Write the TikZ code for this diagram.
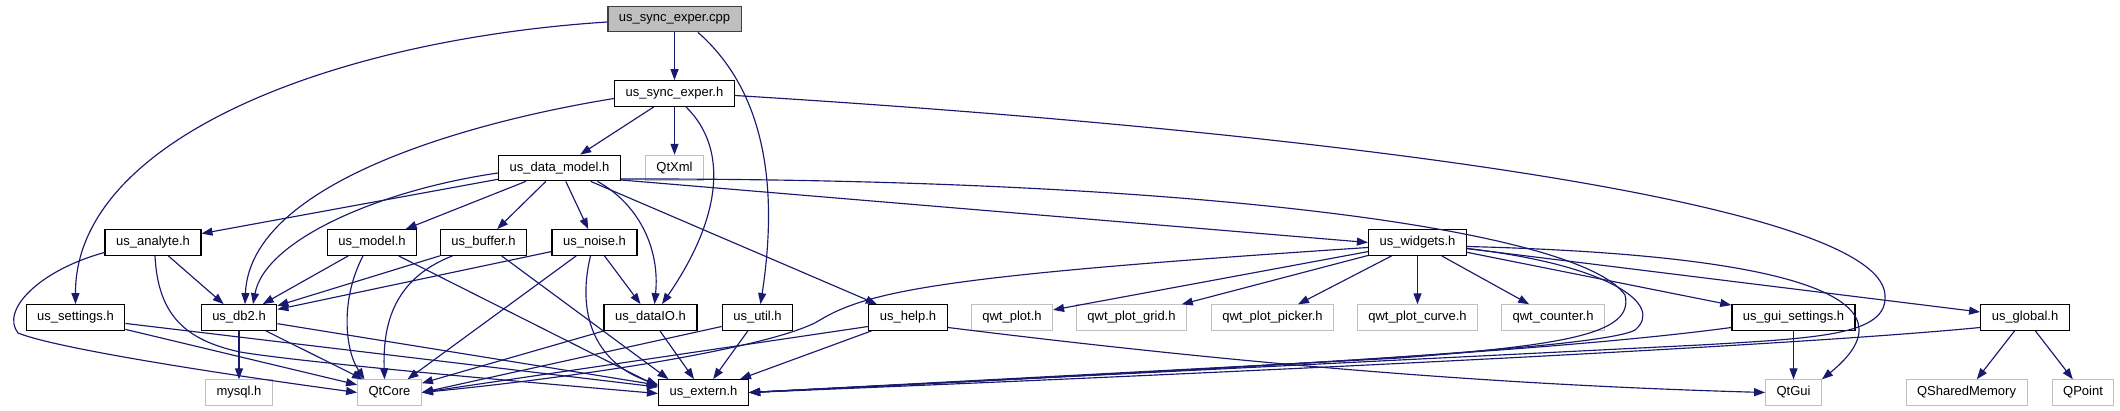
\documentclass[tikz,border=0pt]{standalone}
\usepackage{fontspec}
\setmainfont{Liberation Sans}
\usepackage{tikz}
\usetikzlibrary{arrows.meta}
\definecolor{IncNavy}{HTML}{191970}
\definecolor{FileGrey}{HTML}{BFBFBF}
\definecolor{EdgeDark}{HTML}{404040}

\begin{document}
\begin{tikzpicture}[x=1pt,y=-1pt,
    hdr/.style={draw=black,line width=1.3pt,fill=white,minimum height=25.5pt,inner xsep=11pt,font=\fontsize{13}{15}\selectfont},
    sys/.style={hdr,draw=FileGrey,line width=0.9pt},
    root/.style={hdr,draw=EdgeDark,fill=FileGrey},
    arr/.style={-{Triangle[length=11pt,width=8pt]},line width=1.15pt,IncNavy}]
    \useasboundingbox (0,0) rectangle (2120,411);
    % rows of the include graph
    \node[root] (cpp) at (674.5,19) {us\_sync\_exper.cpp};
    \node[hdr] (sync) at (674.5,93.5) {us\_sync\_exper.h};
    \node[hdr] (dmodel) at (559.5,168) {us\_data\_model.h};
    \node[sys] (qtxml) at (674.5,168) {QtXml};
    \node[hdr] (analyte) at (153,242.5) {us\_analyte.h};
    \node[hdr] (model) at (372,242.5) {us\_model.h};
    \node[hdr] (buffer) at (483.5,242.5) {us\_buffer.h};
    \node[hdr] (noise) at (594.5,242.5) {us\_noise.h};
    \node[hdr] (widgets) at (1417.5,242.5) {us\_widgets.h};
    \node[hdr] (settings) at (75.5,317.5) {us\_settings.h};
    \node[hdr] (db2) at (239,317.5) {us\_db2.h};
    \node[hdr] (dataio) at (650.5,317.5) {us\_dataIO.h};
    \node[hdr] (util) at (757.5,317.5) {us\_util.h};
    \node[hdr] (help) at (908,317.5) {us\_help.h};
    \node[sys] (qwtplot) at (1012,317.5) {qwt\_plot.h};
    \node[sys] (qwtgrid) at (1131.5,317.5) {qwt\_plot\_grid.h};
    \node[sys] (qwtpicker) at (1272.5,317.5) {qwt\_plot\_picker.h};
    \node[sys] (qwtcurve) at (1417.5,317.5) {qwt\_plot\_curve.h};
    \node[sys] (qwtcounter) at (1553,317.5) {qwt\_counter.h};
    \node[hdr] (guisettings) at (1793.5,317.5) {us\_gui\_settings.h};
    \node[hdr] (global) at (2025,317.5) {us\_global.h};
    \node[sys] (mysql) at (239,392.5) {mysql.h};
    \node[sys] (qtcore) at (389.5,392.5) {QtCore};
    \node[hdr] (extern) at (703.5,392.5) {us\_extern.h};
    \node[sys] (qtgui) at (1793.5,392.5) {QtGui};
    \node[sys] (qshm) at (1966.5,392.5) {QSharedMemory};
    \node[sys] (qpoint) at (2083,392.5) {QPoint};
    % us_sync_exper.cpp
    \draw[arr] (cpp) -- (sync);
    \draw[arr] ([yshift=-3pt]cpp.west) .. controls (330,40) and (75,140) .. (settings.north);
    \draw[arr] ([xshift=23.5pt]cpp.south) .. controls (775,100) and (775,210) .. ([xshift=3pt]util.north);
    % us_sync_exper.h
    \draw[arr] (sync) -- (dmodel); \draw[arr] (sync) -- (qtxml);
    \draw[arr] ([yshift=-5pt]sync.west) .. controls (480,120) and (250,180) .. ([xshift=6pt]db2.north);
    \draw[arr] ([xshift=11.5pt]sync.south) .. controls (730,150) and (720,220) .. ([xshift=11.5pt]dataio.north);
    \draw[arr] ([yshift=-2pt]sync.east) .. controls (1300,130) and (1880,200) .. (1885,295)
        .. controls (1888,335) and (1820,338) .. (1700,345) -- (extern.east);
    % us_data_model.h
    \draw[arr] (dmodel) -- (analyte); \draw[arr] (dmodel) -- (model);
    \draw[arr] (dmodel) -- (buffer); \draw[arr] (dmodel) -- (noise); \draw[arr] (dmodel) -- (help);
    \draw[arr] ([yshift=-5pt]dmodel.west) .. controls (380,190) and (265,240) .. ([xshift=14pt]db2.north);
    \draw[arr] ([xshift=38pt]dmodel.south) .. controls (640,205) and (660,250) .. ([xshift=4pt]dataio.north);
    \draw[arr] ([yshift=-12pt]dmodel.east) -- (widgets.west);
    \draw[arr] ([yshift=-11pt]dmodel.east) .. controls (1200,178) and (1580,230) .. (1625,295)
        .. controls (1635,335) and (1560,345) .. (1400,358) -- (extern.east);
    % second row
    \draw[arr] (analyte) -- (db2);
    \draw[arr] ([yshift=-10pt]analyte.west) .. controls (40,270) and (0,310) .. (18,333)
        .. controls (60,350) and (250,378) .. (qtcore.west);
    \draw[arr] ([xshift=2pt]analyte.south) .. controls (158,315) and (185,340) .. (240,352)
        .. controls (300,362) and (500,380) .. ([yshift=-1pt]extern.west);
    \draw[arr] (model) -- (db2);
    \draw[arr] ([xshift=-9pt]model.south) .. controls (340,300) and (345,350) .. ([xshift=-25pt]qtcore.north);
    \draw[arr] (model) -- ([yshift=6pt]extern.west);
    \draw[arr] (buffer) -- (db2);
    \draw[arr] ([xshift=-31pt]buffer.south) .. controls (390,280) and (383,330) .. ([xshift=-5pt]qtcore.north);
    \draw[arr] (buffer) -- ([xshift=-35pt]extern.north);
    \draw[arr] (noise) -- (db2); \draw[arr] (noise) -- (qtcore); \draw[arr] (noise) -- (dataio);
    \draw[arr] ([xshift=-4pt]noise.south) .. controls (575,320) and (600,365) .. ([yshift=8pt]extern.west);
    % third row
    \draw[arr] (settings) -- (qtcore); \draw[arr] (settings) -- (extern);
    \draw[arr] (db2) -- (mysql); \draw[arr] (db2) -- (qtcore); \draw[arr] (db2) -- (extern);
    \draw[arr] (dataio) -- (qtcore); \draw[arr] (dataio) -- (extern);
    \draw[arr] ([yshift=-9pt]util.west) -- (qtcore.east); \draw[arr] (util) -- (extern);
    \draw[arr] ([yshift=-9pt]help.west) -- (qtcore.east); \draw[arr] (help) -- (extern);
    \draw[arr] ([yshift=-10pt]help.east) .. controls (1250,365) and (1500,385) .. (qtgui.west);
    % us_widgets.h
    \foreach \t in {qwtplot,qwtgrid,qwtpicker,qwtcurve,qwtcounter,guisettings,global}
        \draw[arr] (widgets) -- (\t);
    \draw[arr] ([yshift=-5pt]widgets.west) .. controls (950,275) and (870,290) .. (820,320)
        .. controls (780,345) and (600,375) .. (qtcore.east);
    \draw[arr] ([yshift=-4pt]widgets.east) .. controls (1800,255) and (1920,300) .. (qtgui.north east);
    \draw[arr] ([yshift=-6pt]widgets.east) .. controls (1610,265) and (1665,305) .. (1635,330)
        .. controls (1600,350) and (1200,370) .. (extern.east);
    % us_gui_settings.h and us_global.h
    \draw[arr] (guisettings) -- (qtgui);
    \draw[arr] ([yshift=-10pt]guisettings.west) .. controls (1550,352) and (1200,370) .. (extern.east);
    \draw[arr] (global) -- (qshm); \draw[arr] (global) -- (qpoint);
    \draw[arr] ([yshift=-10pt]global.west) .. controls (1800,345) and (1300,370) .. (extern.east);
  \end{tikzpicture}
\end{document}
